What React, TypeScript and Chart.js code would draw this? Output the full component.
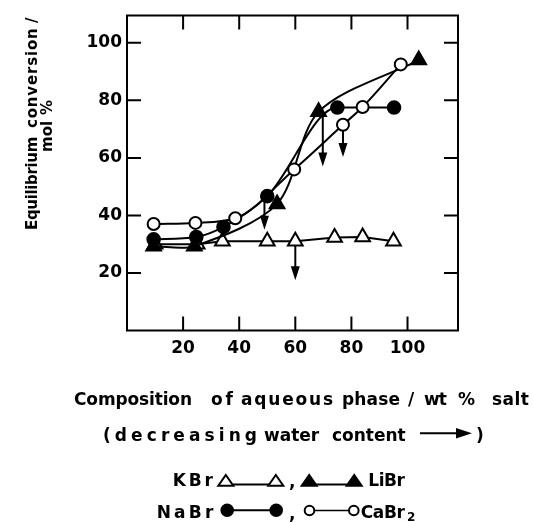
import React, { useEffect, useRef } from "react";
import { Chart, registerables } from "chart.js";

Chart.register(...registerables);

// ---- data ----
const xTicks = [20, 40, 60, 80, 100];
const yTicks = [20, 40, 60, 80, 100];

const kbrX = [10, 25, 34, 50, 60, 74, 84, 95];
const kbrY = [30, 30, 31, 31, 31, 32.3, 32.5, 31];

const librX = [9.5, 24, 53.5, 68.3, 104];
const librY = [29.3, 29.3, 44, 76, 94];

const nabrX = [9.5, 24.7, 34.4, 50, 75, 95.2];
const nabrY = [31.7, 32.5, 36, 46.7, 77.5, 77.5];

const cabrX = [9.5, 24.4, 38.6, 59.6, 77, 84, 97.6];
const cabrY = [37, 37.4, 39, 56, 71.5, 77.7, 92.5];

const arrowX = [49, 60, 69.8, 77];
const arrowFrom = [44.7, 30.8, 76, 71];
const arrowTo = [35, 17.5, 57, 60.3];

const FONT = "'DejaVu Sans', sans-serif";

function pts(xs: number[], ys: number[]) {
  return xs.map((x, i) => ({ x, y: ys[i] }));
}

function drawFit(ctx: CanvasRenderingContext2D, text: string, x0: number, x1: number, y: number) {
  const chars = Array.from(text);
  const widths = chars.map((c) => ctx.measureText(c).width);
  const natural = widths.reduce((a, b) => a + b, 0);
  const sp = chars.length > 1 ? (x1 - x0 - natural) / (chars.length - 1) : 0;
  let x = x0;
  ctx.textAlign = "left";
  ctx.textBaseline = "alphabetic";
  chars.forEach((c, i) => {
    ctx.fillText(c, x, y);
    x += widths[i] + sp;
  });
}

function drawAt(ctx: CanvasRenderingContext2D, text: string, x: number, y: number) {
  ctx.textAlign = "left";
  ctx.textBaseline = "alphabetic";
  ctx.fillText(text, x, y);
}

function tri(ctx: CanvasRenderingContext2D, x0: number, x1: number, yBase: number, yTop: number, filled: boolean) {
  ctx.beginPath();
  ctx.moveTo(x0, yBase);
  ctx.lineTo(x1, yBase);
  ctx.lineTo((x0 + x1) / 2, yTop);
  ctx.closePath();
  ctx.fillStyle = filled ? "#000" : "#fff";
  ctx.fill();
  ctx.lineWidth = 2;
  ctx.strokeStyle = "#000";
  ctx.stroke();
}

function circ(ctx: CanvasRenderingContext2D, cx: number, cy: number, r: number, filled: boolean) {
  ctx.beginPath();
  ctx.arc(cx, cy, r, 0, Math.PI * 2);
  ctx.fillStyle = filled ? "#000" : "#fff";
  ctx.fill();
  ctx.lineWidth = 2;
  ctx.strokeStyle = "#000";
  ctx.stroke();
}

function hline(ctx: CanvasRenderingContext2D, x0: number, x1: number, y: number, w = 2) {
  ctx.beginPath();
  ctx.moveTo(x0, y);
  ctx.lineTo(x1, y);
  ctx.lineWidth = w;
  ctx.strokeStyle = "#000";
  ctx.stroke();
}

const framePlugin = {
  id: "frame",
  beforeDatasetsDraw(chart: any) {
    const { ctx, chartArea, scales } = chart;
    const { left, right, top, bottom } = chartArea;
    ctx.save();
    ctx.strokeStyle = "#000";
    ctx.lineWidth = 2;
    ctx.strokeRect(left, top, right - left, bottom - top);
    const tl = 14;
    xTicks.forEach((v) => {
      const px = scales.x.getPixelForValue(v);
      ctx.beginPath();
      ctx.moveTo(px, bottom);
      ctx.lineTo(px, bottom - tl);
      ctx.moveTo(px, top);
      ctx.lineTo(px, top + tl);
      ctx.stroke();
    });
    yTicks.forEach((v) => {
      const py = scales.y.getPixelForValue(v);
      ctx.beginPath();
      ctx.moveTo(left, py);
      ctx.lineTo(left + tl, py);
      ctx.moveTo(right, py);
      ctx.lineTo(right - tl, py);
      ctx.stroke();
    });
    // arrows
    arrowX.forEach((xv, i) => {
      const px = scales.x.getPixelForValue(xv);
      const y0 = scales.y.getPixelForValue(arrowFrom[i]);
      const y1 = scales.y.getPixelForValue(arrowTo[i]);
      ctx.beginPath();
      ctx.moveTo(px, y0);
      ctx.lineTo(px, y1 - 10);
      ctx.lineWidth = 2;
      ctx.stroke();
      ctx.beginPath();
      ctx.moveTo(px - 4.5, y1 - 14);
      ctx.lineTo(px + 4.5, y1 - 14);
      ctx.lineTo(px, y1);
      ctx.closePath();
      ctx.fillStyle = "#000";
      ctx.fill();
    });
    ctx.restore();
  },
  afterDraw(chart: any) {
    const ctx: CanvasRenderingContext2D = chart.ctx;
    ctx.save();
    ctx.fillStyle = "#000";
    ctx.font = `bold 17px ${FONT}`;
    // x title line 1
    const b1 = 404.5;
    drawFit(ctx, "Composition", 74, 192, b1);
    drawFit(ctx, "of", 211, 233, b1);
    drawFit(ctx, "aqueous", 241, 333, b1);
    drawFit(ctx, "phase", 342, 400, b1);
    drawAt(ctx, "/", 408, b1);
    drawFit(ctx, "wt", 424, 447, b1);
    drawAt(ctx, "%", 458, b1);
    drawFit(ctx, "salt", 492, 529, b1);
    // x title line 2
    const b2 = 441;
    drawFit(ctx, "(decreasing", 103, 257, b2);
    drawAt(ctx, "water", 264, b2);
    drawAt(ctx, "content", 332, b2);
    hline(ctx, 420, 458, 433.3);
    ctx.beginPath();
    ctx.moveTo(456, 428);
    ctx.lineTo(472, 433.3);
    ctx.lineTo(456, 438.6);
    ctx.closePath();
    ctx.fillStyle = "#000";
    ctx.fill();
    drawAt(ctx, ")", 476, b2);

    // y title (rotated)
    ctx.font = `bold 15px ${FONT}`;
    ctx.save();
    ctx.translate(36.7, 230);
    ctx.rotate(-Math.PI / 2);
    drawFit(ctx, "Equilibrium", 0, 93.3, 0);
    drawFit(ctx, "conversion", 102, 201.7, 0);
    drawFit(ctx, "/", 207, 216.7, 0);
    ctx.restore();
    ctx.save();
    ctx.translate(51.7, 152);
    ctx.rotate(-Math.PI / 2);
    drawAt(ctx, "mol", 0, 0);
    drawAt(ctx, "%", 37, 0);
    ctx.restore();

    // legend
    ctx.font = `bold 17px ${FONT}`;
    ctx.fillStyle = "#000";
    const l1 = 485.7;
    drawFit(ctx, "KBr", 172.7, 213, l1);
    hline(ctx, 233, 269, 484.5);
    tri(ctx, 218.3, 233.3, 485.7, 475, false);
    tri(ctx, 268.3, 283.3, 485.7, 475, false);
    ctx.fillStyle = "#000";
    drawAt(ctx, ",", 289, l1 + 1);
    hline(ctx, 316, 347, 484.5);
    tri(ctx, 301.7, 316.7, 485.7, 475, true);
    tri(ctx, 346.7, 361.7, 485.7, 475, true);
    ctx.fillStyle = "#000";
    drawFit(ctx, "LiBr", 368.3, 405, l1);

    const l2 = 518;
    drawFit(ctx, "NaBr", 156.7, 213.3, l2);
    hline(ctx, 230, 273, 510.3);
    circ(ctx, 227.2, 510.3, 5.8, true);
    circ(ctx, 276.2, 510.3, 5.8, true);
    ctx.fillStyle = "#000";
    drawAt(ctx, ",", 289, l2 + 1);
    hline(ctx, 314, 349, 510.5, 1.5);
    circ(ctx, 309.5, 510.5, 4.8, false);
    circ(ctx, 353.8, 510.5, 4.8, false);
    ctx.fillStyle = "#000";
    drawFit(ctx, "CaBr", 360.7, 405, l2);
    ctx.font = `bold 12px ${FONT}`;
    drawAt(ctx, "2", 407, l2 + 3);
    ctx.restore();
  },
};

export default function App() {
  const ref = useRef<HTMLCanvasElement | null>(null);
  useEffect(() => {
    if (!ref.current) return;
    const common = {
      borderColor: "#000",
      borderWidth: 2,
      pointBorderColor: "#000",
      pointBorderWidth: 2,
    };
    const chart = new Chart(ref.current, {
      type: "line",
      data: {
        datasets: [
          {
            label: "KBr",
            data: pts(kbrX, kbrY),
            ...common,
            pointStyle: "triangle",
            pointRadius: 8.5,
            pointBackgroundColor: "#fff",
            tension: 0,
            order: 4,
          },
          {
            label: "LiBr",
            data: pts(librX, librY),
            ...common,
            pointStyle: "triangle",
            pointRadius: 8.5,
            pointBackgroundColor: "#000",
            tension: 0.3,
            order: 3,
          },
          {
            label: "NaBr",
            data: pts(nabrX, nabrY),
            ...common,
            pointStyle: "circle",
            pointRadius: 6.3,
            pointBackgroundColor: "#000",
            cubicInterpolationMode: "monotone",
            order: 2,
          },
          {
            label: "CaBr2",
            data: pts(cabrX, cabrY),
            ...common,
            pointStyle: "circle",
            pointRadius: 6,
            pointBackgroundColor: "#fff",
            cubicInterpolationMode: "monotone",
            order: 1,
          },
        ] as any,
      },
      options: {
        animation: false,
        responsive: false,
        devicePixelRatio: 1,
        layout: { padding: { top: 15.5, right: 75, left: 0, bottom: 0 } },
        plugins: { legend: { display: false }, tooltip: { enabled: false } },
        scales: {
          x: {
            type: "linear",
            position: "bottom",
            min: 0,
            max: 118,
            grid: { display: false, drawTicks: false },
            border: { display: false },
            afterBuildTicks: (s: any) => {
              s.ticks = xTicks.map((v) => ({ value: v }));
            },
            afterFit: (s: any) => {
              s.height = 191.5;
            },
            ticks: {
              color: "#000",
              font: { family: FONT, size: 17, weight: "bold" },
              padding: 8,
              maxRotation: 0,
            },
          },
          y: {
            type: "linear",
            min: 0,
            max: 109.5,
            grid: { display: false, drawTicks: false },
            border: { display: false },
            afterBuildTicks: (s: any) => {
              s.ticks = yTicks.map((v) => ({ value: v }));
            },
            afterFit: (s: any) => {
              s.width = 127;
            },
            ticks: {
              color: "#000",
              font: { family: FONT, size: 17, weight: "bold" },
              padding: 5,
            },
          },
        },
      } as any,
      plugins: [framePlugin],
    });
    return () => chart.destroy();
  }, []);
  return (
    <div style={{ position: "absolute", left: 0, top: 0, width: 533, height: 522, background: "#fff" }}>
      <canvas ref={ref} width={533} height={522} style={{ display: "block", width: 533, height: 522 }} />
    </div>
  );
}
